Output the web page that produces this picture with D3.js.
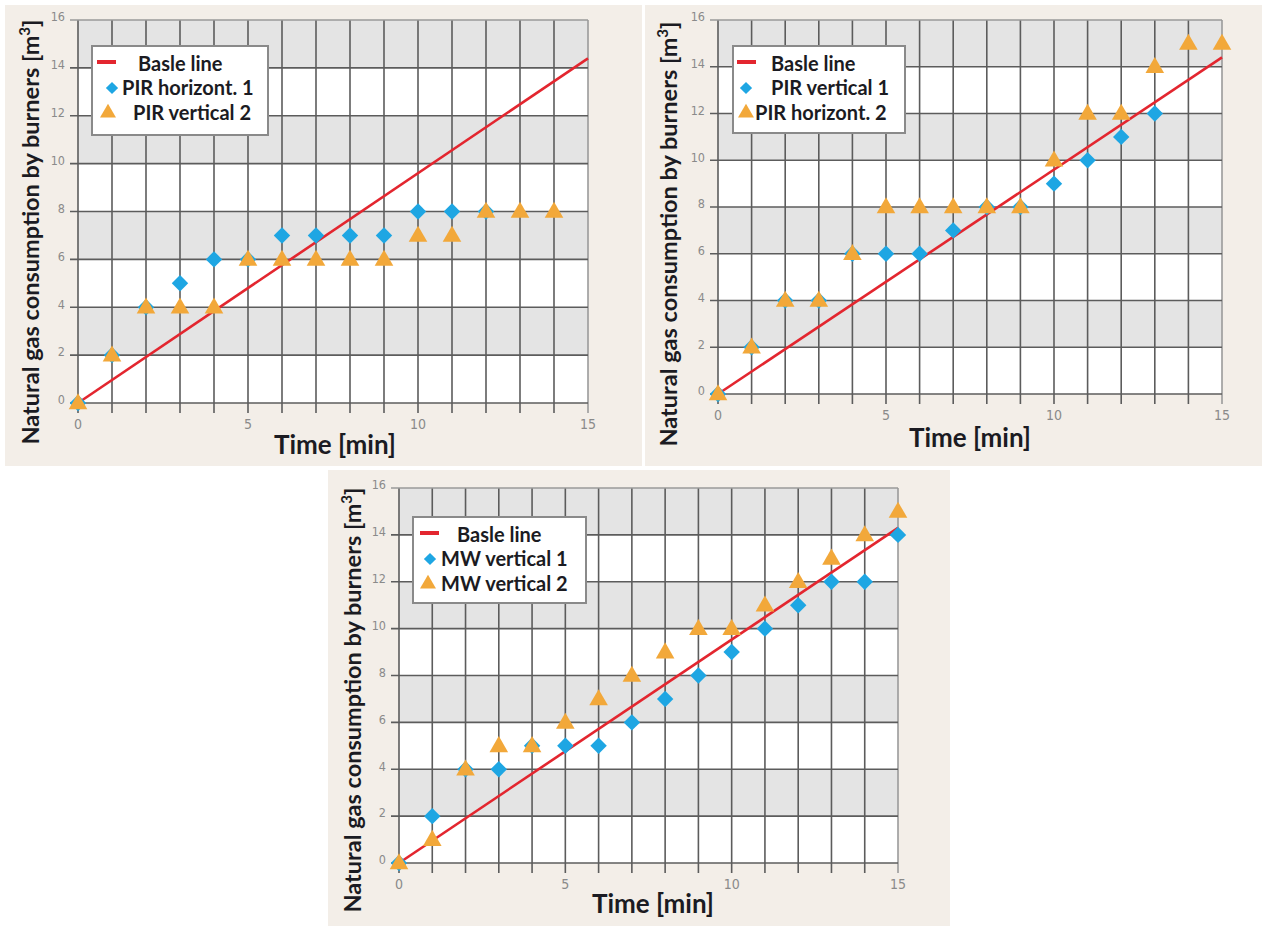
<!DOCTYPE html>
<html>
<head>
<meta charset="utf-8">
<script src="https://cdn.jsdelivr.net/npm/d3@7"></script>
<style>
  body { margin: 0; background: #fff; }
  svg { display: block; }
</style>
</head>
<body>
<svg id="chart" width="1268" height="928"></svg>
<script>
// time axis (minutes)
const timeMin = [0, 1, 2, 3, 4, 5, 6, 7, 8, 9, 10, 11, 12, 13, 14, 15];
const xTickLabels = [0, 5, 10, 15];
const yTicks = [0, 2, 4, 6, 8, 10, 12, 14, 16];
const grayBands = [[2, 4], [6, 8], [10, 12], [14, 16]];

// panel 1
const pirHoriz1 = [0, 2, 4, 5, 6, 6, 7, 7, 7, 7, 8, 8, 8];
const pirVert2 = [0, 2, 4, 4, 4, 6, 6, 6, 6, 6, 7, 7, 8, 8, 8];
const baseline1 = [[0, 0], [15, 14.4]];

// panel 2
const pirVert1 = [0, 2, 4, 4, 6, 6, 6, 7, 8, 8, 9, 10, 11, 12];
const pirHoriz2 = [0, 2, 4, 4, 6, 8, 8, 8, 8, 8, 10, 12, 12, 14, 15, 15];
const baseline2 = [[0, 0], [15, 14.4]];

// panel 3
const mwVert1 = [0, 2, 4, 4, 5, 5, 5, 6, 7, 8, 9, 10, 11, 12, 12, 14];
const mwVert2 = [0, 1, 4, 5, 5, 6, 7, 8, 9, 10, 10, 11, 12, 13, 14, 15];
const baseline3 = [[0, 0], [15, 14.3]];

const legend1 = ["Basle line", "PIR horizont. 1", "PIR vertical 2"];
const legend2 = ["Basle line", "PIR vertical 1", "PIR horizont. 2"];
const legend3 = ["Basle line", "MW vertical 1", "MW vertical 2"];

const RED = "#e3262f", BLUE = "#1ea6e3", ORANGE = "#f2a83a";
const GRID = "#5c5c5c";
const FONT = "Lato, 'Open Sans', sans-serif";

const svg = d3.select("#chart");

const panels = [
  { box: [5, 5, 637, 461], left: 78, right: 588, top: 20, bottom: 403,
    blue: pirHoriz1, orange: pirVert2, base: baseline1, labels: legend1,
    leg: [92, 46, 176, 89], legTx: [138, 122, 133], legSym: [5, 20, 16],
    xTitle: [335, 454], yTitle: [31, 232] },
  { box: [645, 5, 617, 461], left: 718, right: 1222, top: 20, bottom: 394,
    blue: pirVert1, orange: pirHoriz2, base: baseline2, labels: legend2,
    leg: [733, 46, 172, 87], legTx: [771, 771, 755], legSym: [4, 13, 13],
    xTitle: [970, 447], yTitle: [669, 234] },
  { box: [328, 470, 622, 456], left: 399, right: 898, top: 488, bottom: 863,
    blue: mwVert1, orange: mwVert2, base: baseline3, labels: legend3,
    leg: [413, 517, 173, 86], legTx: [457, 441, 441], legSym: [7, 17, 15],
    xTitle: [653, 913], yTitle: [353, 700] }
];

panels.forEach(drawPanel);

function drawPanel(p) {
  const g = svg.append("g");
  g.append("rect")
    .attr("x", p.box[0]).attr("y", p.box[1])
    .attr("width", p.box[2]).attr("height", p.box[3])
    .attr("fill", "#f3eee8");

  const x = d3.scaleLinear().domain([0, 15]).range([p.left, p.right]);
  const y = d3.scaleLinear().domain([0, 16]).range([p.bottom, p.top]);

  // plot background with grey bands
  g.append("rect")
    .attr("x", x(0)).attr("y", y(16))
    .attr("width", x(15) - x(0)).attr("height", y(0) - y(16))
    .attr("fill", "#fff");
  g.selectAll(".band").data(grayBands).enter().append("rect")
    .attr("x", x(0)).attr("y", d => y(d[1]))
    .attr("width", x(15) - x(0)).attr("height", d => y(d[0]) - y(d[1]))
    .attr("fill", "#e4e4e4");

  // vertical grid + ticks below axis
  g.selectAll(".vg").data(timeMin).enter().append("line")
    .attr("x1", d => x(d)).attr("x2", d => x(d))
    .attr("y1", y(16)).attr("y2", y(0) + 10)
    .attr("stroke", d => d === 15 ? "#9a9a9a" : GRID)
    .attr("stroke-width", 1.6);

  // horizontal grid + ticks left of axis
  g.selectAll(".hg").data(yTicks).enter().append("line")
    .attr("x1", x(0) - 8).attr("x2", x(15))
    .attr("y1", d => y(d)).attr("y2", d => y(d))
    .attr("stroke", d => d === 16 ? "#9a9a9a" : GRID)
    .attr("stroke-width", 1.6);

  // tick labels
  g.selectAll(".yl").data(yTicks).enter().append("text")
    .attr("x", x(0) - 13).attr("y", d => y(d))
    .attr("dy", "0.1em")
    .attr("text-anchor", "end")
    .attr("font-family", "'Liberation Sans Narrow', 'DejaVu Sans Condensed', sans-serif")
    .attr("font-size", 12.5).attr("fill", "#8a8a8a")
    .text(d => d);
  g.selectAll(".xl").data(xTickLabels).enter().append("text")
    .attr("x", d => x(d)).attr("y", y(0) + 26)
    .attr("text-anchor", "middle")
    .attr("font-family", "'Liberation Sans Narrow', 'DejaVu Sans Condensed', sans-serif")
    .attr("font-size", 14).attr("fill", "#8a8a8a")
    .text(d => d);

  // baseline
  g.append("path")
    .datum(p.base)
    .attr("d", d3.line().x(d => x(d[0])).y(d => y(d[1])))
    .attr("fill", "none").attr("stroke", RED).attr("stroke-width", 2.6);

  const diamond = d3.symbol().type(d3.symbolSquare).size(135);
  const tri = d3.symbol().type(d3.symbolTriangle).size(150);

  g.selectAll(".blue").data(p.blue).enter().append("path")
    .attr("d", diamond)
    .attr("transform", (d, i) => `translate(${x(timeMin[i])},${y(d)}) rotate(45)`)
    .attr("fill", BLUE);
  g.selectAll(".orange").data(p.orange).enter().append("path")
    .attr("d", tri)
    .attr("transform", (d, i) => `translate(${x(timeMin[i])},${y(d) + 1})`)
    .attr("fill", ORANGE);

  // legend
  const [lx, ly, lw, lh] = p.leg;
  g.append("rect")
    .attr("x", lx).attr("y", ly).attr("width", lw).attr("height", lh)
    .attr("fill", "#fff").attr("stroke", "#8a8a8a").attr("stroke-width", 2);
  const rowY = [ly + 18, ly + 42, ly + 67];
  g.append("line")
    .attr("x1", lx + p.legSym[0]).attr("x2", lx + p.legSym[0] + 19)
    .attr("y1", rowY[0] - 2).attr("y2", rowY[0] - 2)
    .attr("stroke", RED).attr("stroke-width", 4);
  g.append("path").attr("d", d3.symbol().type(d3.symbolSquare).size(75))
    .attr("transform", `translate(${lx + p.legSym[1]},${rowY[1]}) rotate(45)`).attr("fill", BLUE);
  g.append("path").attr("d", d3.symbol().type(d3.symbolTriangle).size(110))
    .attr("transform", `translate(${lx + p.legSym[2]},${rowY[2]})`).attr("fill", ORANGE);
  g.selectAll(".lt").data(p.labels).enter().append("text")
    .attr("x", (d, i) => p.legTx[i]).attr("y", (d, i) => rowY[i])
    .attr("dy", "0.35em")
    .attr("font-family", FONT).attr("font-weight", "bold")
    .attr("font-size", 20).attr("fill", "#1b1b22")
    .text(d => d);

  // axis titles
  g.append("text")
    .attr("x", p.xTitle[0]).attr("y", p.xTitle[1])
    .attr("text-anchor", "middle")
    .attr("font-family", FONT).attr("font-weight", "bold")
    .attr("font-size", 26).attr("fill", "#1b1b22")
    .text("Time [min]");
  const yt = g.append("text")
    .attr("transform", `translate(${p.yTitle[0]},${p.yTitle[1]}) rotate(-90)`)
    .attr("text-anchor", "middle").attr("dy", "0.35em")
    .attr("font-family", FONT).attr("font-weight", "bold")
    .attr("font-size", 23.5).attr("fill", "#1b1b22");
  yt.append("tspan").text("Natural gas consumption by burners [m");
  yt.append("tspan").attr("baseline-shift", "super").attr("font-size", 15).text("3");
  yt.append("tspan").text("]");
}
</script>
</body>
</html>
